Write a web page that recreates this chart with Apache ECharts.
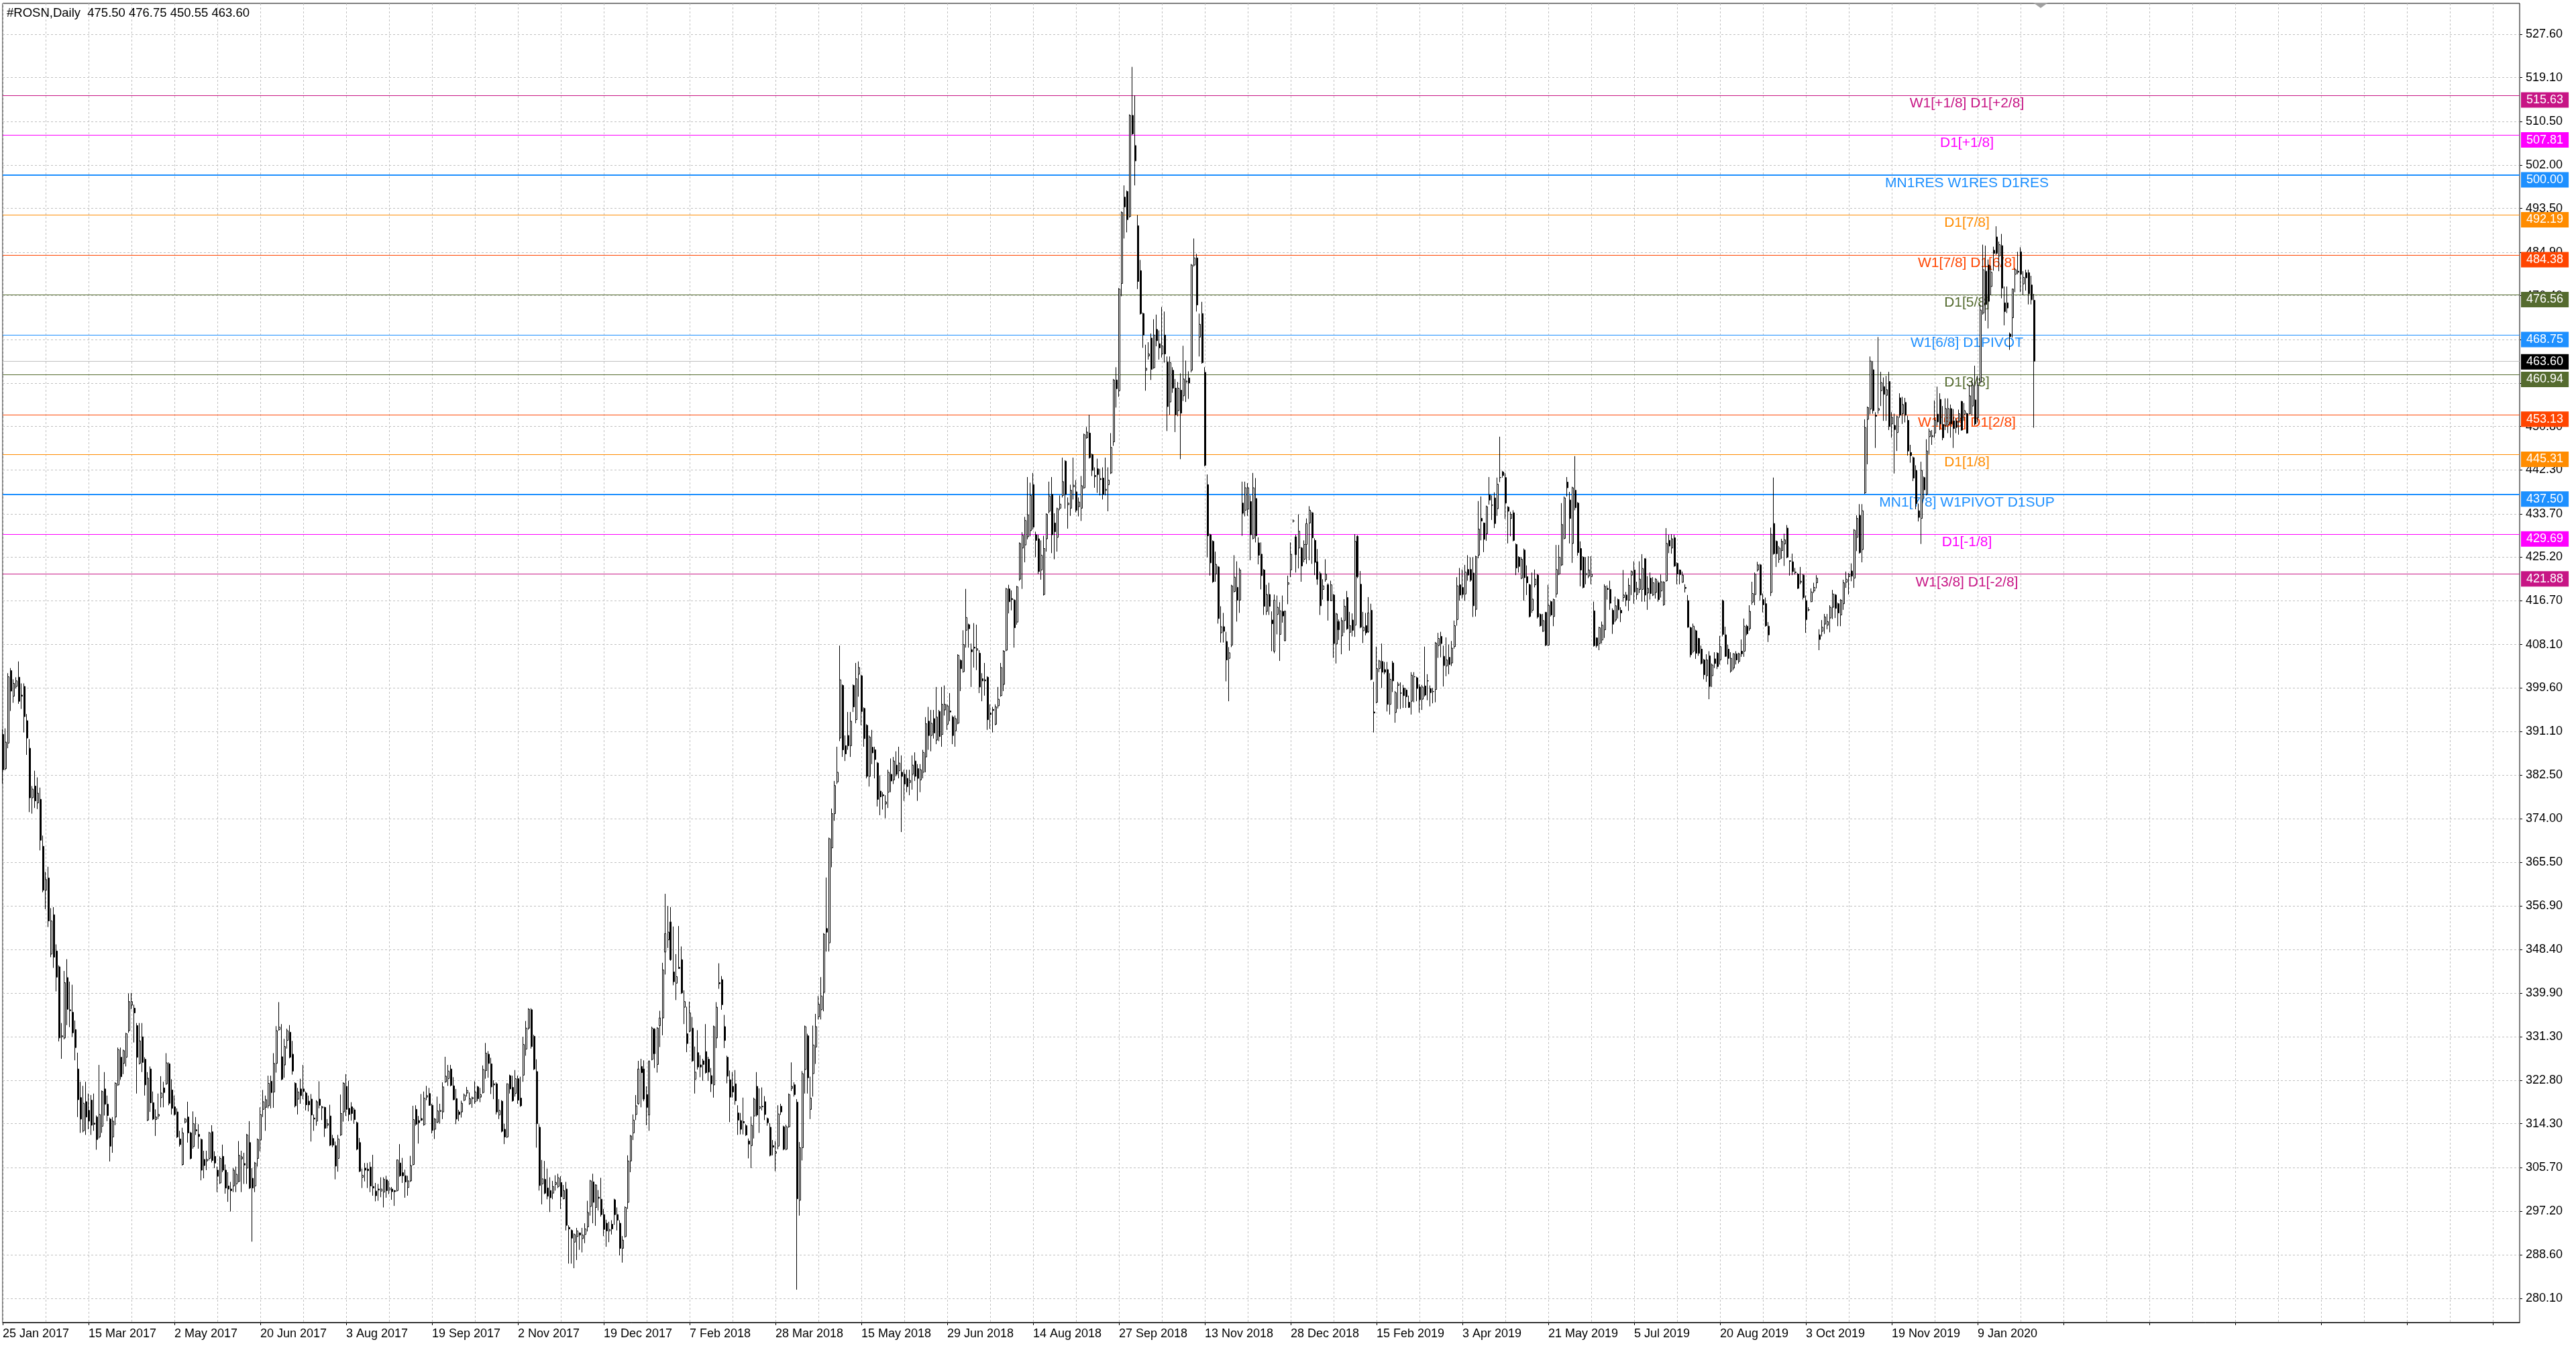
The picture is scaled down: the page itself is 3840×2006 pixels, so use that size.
<!DOCTYPE html>
<html><head><meta charset="utf-8">
<script src="https://cdn.jsdelivr.net/npm/echarts/dist/echarts.min.js"></script>
<style>html,body{margin:0;padding:0;background:#fff}#c{width:3840px;height:2006px}</style>
</head><body><div id="c"></div>
<script>
const symbolTitle = "#ROSN,Daily  475.50 476.75 450.55 463.60";
const dateLabels = ["25 Jan 2017","15 Mar 2017","2 May 2017","20 Jun 2017","3 Aug 2017","19 Sep 2017","2 Nov 2017","19 Dec 2017","7 Feb 2018","28 Mar 2018","15 May 2018","29 Jun 2018","14 Aug 2018","27 Sep 2018","13 Nov 2018","28 Dec 2018","15 Feb 2019","3 Apr 2019","21 May 2019","5 Jul 2019","20 Aug 2019","3 Oct 2019","19 Nov 2019","9 Jan 2020"];
const priceTicks = [280.10,288.60,297.20,305.70,314.30,322.80,331.30,339.90,348.40,356.90,365.50,374.00,382.50,391.10,399.60,408.10,416.70,425.20,433.70,442.30,450.80,459.30,467.80,476.40,484.90,493.50,502.00,510.50,519.10,527.60];
const levelValues = [515.63,507.81,500.00,492.19,484.38,476.56,468.75,460.94,453.13,445.31,437.50,429.69,421.88];
const levelNames = ["W1[+1/8] D1[+2/8]","D1[+1/8]","MN1RES W1RES D1RES","D1[7/8]","W1[7/8] D1[6/8]","D1[5/8]","W1[6/8] D1PIVOT","D1[3/8]","W1[5/8] D1[2/8]","D1[1/8]","MN1[7/8] W1PIVOT D1SUP","D1[-1/8]","W1[3/8] D1[-2/8]"];

const opens = [
390.5,383.8,388.8,403.0,398.0,399.9,401.7,398.2,399.9,393.2,
387.8,378.1,380.4,377.1,377.8,368.6,360.0,362.4,347.5,355.2,
348.1,345.0,331.3,331.1,342.9,336.4,336.1,332.7,325.0,319.4,
312.9,318.6,316.9,318.9,314.4,315.6,311.7,313.8,321.1,318.1,
315.2,311.7,315.6,321.9,327.3,326.1,327.3,332.5,337.5,336.9,
333.5,326.1,331.3,326.9,315.0,325.0,318.4,315.1,315.8,319.4,
321.3,322.1,326.0,320.9,317.6,316.6,311.3,306.3,314.6,315.6,
312.5,309.8,313.1,312.2,311.2,307.3,307.0,307.5,312.7,307.9,
305.2,302.7,307.9,305.2,302.1,301.5,302.1,302.5,303.0,307.4,
306.5,305.6,310.6,303.6,302.1,307.5,311.1,317.1,317.5,317.8,
322.6,320.5,326.1,332.7,327.4,325.8,330.6,332.2,327.9,322.2,
319.1,321.1,321.1,320.3,318.7,319.1,315.4,314.8,319.1,317.4,
317.5,314.0,315.8,311.4,310.0,307.5,312.1,316.6,321.6,317.3,
317.6,317.0,314.5,310.6,303.8,305.6,305.4,305.8,302.0,301.1,
301.5,301.1,300.9,303.3,301.3,301.5,301.2,301.2,306.6,304.7,
304.1,301.8,303.1,306.3,317.1,314.9,315.3,314.1,319.5,320.2,
317.9,313.2,314.6,316.7,316.6,322.5,323.1,325.0,321.7,319.2,
316.6,316.6,318.9,320.3,318.2,319.2,318.6,321.5,319.5,320.4,
324.7,327.9,326.0,322.1,322.1,316.0,318.7,313.2,311.7,323.7,
321.4,320.2,323.1,319.3,323.8,328.9,333.0,336.6,331.4,324.5,
313.6,302.5,303.4,301.7,301.2,300.7,302.4,302.0,302.8,299.6,
301.5,294.0,293.4,291.1,292.2,292.9,291.8,292.6,294.1,298.1,
302.9,297.9,299.9,299.5,296.5,294.8,293.3,294.6,299.4,296.5,
294.8,289.9,292.2,298.9,307.0,312.5,316.1,318.2,325.5,325.0,
320.0,316.0,326.9,332.8,325.9,333.5,335.0,347.9,350.3,353.8,
344.0,341.8,344.9,346.4,337.1,331.9,332.4,333.0,323.0,328.2,
325.8,326.6,328.4,326.9,323.7,321.9,331.1,341.9,342.5,333.3,
327.3,322.9,321.6,322.1,316.4,314.9,314.7,313.9,310.9,310.0,
315.8,321.6,317.3,317.7,318.6,315.3,313.6,310.0,308.5,309.9,
317.7,313.7,309.3,313.7,321.2,321.9,318.5,299.3,309.6,324.9,
331.5,317.1,324.1,329.3,335.2,336.6,340.0,352.5,349.7,368.3,
375.0,381.2,389.8,400.1,388.3,390.3,388.3,400.1,393.4,402.3,
402.0,395.6,392.3,382.3,388.0,387.5,384.9,379.4,378.7,376.9,
379.2,382.7,381.6,384.5,383.4,383.1,382.7,381.9,381.1,382.7,
385.3,383.8,381.6,383.1,386.1,393.1,390.3,393.6,389.4,395.0,
390.5,395.3,392.5,395.1,393.9,391.2,392.7,405.0,402.8,410.9,
412.0,407.1,407.6,407.0,406.4,401.4,401.2,401.7,394.7,395.4,
392.5,396.1,398.1,400.3,407.0,419.0,417.1,416.8,412.5,420.9,
427.0,427.6,429.2,430.4,439.4,429.6,428.8,422.7,417.9,428.8,
434.2,437.5,431.9,429.1,434.8,437.3,444.0,435.5,434.8,439.0,
438.0,435.1,434.8,438.8,448.6,449.5,445.3,441.2,442.5,440.6,
440.7,438.3,439.4,441.7,447.8,459.9,457.8,478.8,495.7,496.8,
491.9,511.7,505.8,490.1,481.3,472.9,461.8,464.6,468.1,462.3,
469.8,467.0,465.0,468.7,463.4,455.6,461.8,458.3,453.9,457.9,
456.8,459.5,460.3,461.8,482.4,483.8,468.3,472.9,461.4,439.4,
429.6,428.3,421.9,423.3,410.4,411.6,408.7,405.4,408.0,418.5,
419.3,416.8,435.8,434.4,434.6,436.1,428.9,436.7,428.0,425.8,
422.7,414.6,417.9,412.9,406.8,414.0,410.1,414.6,408.9,419.9,
422.7,432.3,429.2,427.0,427.0,424.8,427.7,431.9,433.9,428.5,
424.3,422.0,418.9,420.8,419.8,416.7,417.8,408.2,412.6,409.8,
412.8,417.3,410.5,412.9,411.9,429.3,419.9,410.8,411.8,410.6,
414.8,394.9,396.8,403.4,404.8,403.2,403.2,396.4,404.5,394.8,
400.1,398.6,399.6,399.2,396.8,397.0,401.8,401.6,399.8,397.4,
400.0,401.0,399.5,398.9,399.3,407.9,409.7,405.8,403.9,405.6,
404.5,407.7,413.0,419.8,419.3,418.0,422.8,422.8,422.1,415.0,
425.6,432.8,431.9,429.8,437.4,435.4,436.8,434.7,440.8,441.9,
440.8,435.0,432.8,433.9,427.7,425.2,421.1,426.6,421.4,419.8,
414.8,419.8,421.7,414.0,410.7,414.4,408.0,416.5,413.6,418.0,
421.9,423.7,428.9,439.9,436.4,427.9,438.3,435.8,426.9,425.2,
421.8,421.5,421.4,414.7,409.4,408.3,409.0,411.0,419.1,418.9,
414.8,412.9,416.9,414.8,417.3,417.8,416.8,421.7,422.7,417.9,
418.9,418.9,424.9,418.2,421.1,417.8,418.3,420.2,418.6,415.9,
420.6,428.5,427.0,429.0,424.0,422.7,420.3,419.3,416.7,411.4,
406.8,410.8,409.3,407.2,405.1,402.0,405.9,402.0,405.3,406.4,
405.1,416.7,410.0,407.2,402.9,403.5,406.3,404.8,406.8,406.8,
411.7,411.2,416.4,417.9,422.7,423.7,416.9,416.1,411.7,418.3,
431.8,428.3,424.8,426.5,427.8,430.9,424.5,424.3,422.3,421.9,
420.3,421.7,416.7,414.9,416.5,418.6,420.2,410.0,410.7,412.1,
411.9,413.3,415.4,417.8,416.1,413.9,416.1,420.3,421.4,422.5,
421.1,429.1,433.4,426.7,437.8,452.2,454.2,461.9,453.0,454.0,
457.8,458.6,456.9,459.6,451.3,451.0,449.6,456.4,453.3,455.5,
452.0,445.7,444.7,442.2,434.3,432.8,440.8,437.5,448.8,448.8,
449.5,453.2,456.1,451.2,451.0,451.2,454.3,451.9,451.9,451.9,
455.7,453.2,453.3,453.3,454.8,456.0,452.5,459.5,473.0,481.2,
482.4,478.2,485.3,487.9,484.2,486.2,475.0,475.0,468.9,472.1,
480.6,481.2,485.0,478.7,480.9,480.9,478.5,475.5];

const highs = [
391.5,391.7,402.5,403.5,401.3,401.7,404.8,400.5,400.5,394.5,
389.6,380.4,383.4,382.1,380.1,370.7,363.6,364.6,356.5,356.7,
349.4,345.3,334.0,344.2,346.5,342.1,341.5,334.5,328.2,322.5,
321.7,322.5,320.2,319.9,320.2,315.9,325.8,320.8,324.4,319.8,
315.5,315.6,322.4,329.2,329.2,328.8,332.1,339.8,339.9,337.6,
334.0,334.0,334.0,327.3,324.4,325.5,320.6,317.1,320.2,323.6,
322.5,328.1,326.3,323.0,319.8,317.3,312.9,313.5,315.4,318.6,
312.7,316.7,315.6,314.2,311.4,309.0,309.0,312.7,314.0,308.9,
305.9,307.9,310.2,306.3,304.8,302.9,305.6,305.9,310.9,309.0,
308.6,312.3,314.8,305.6,306.8,311.4,317.5,320.9,319.8,323.7,
323.7,328.1,333.4,338.1,333.8,330.9,332.9,333.6,330.5,322.4,
321.3,323.1,325.8,320.6,319.8,320.1,316.1,318.9,322.6,317.8,
317.6,315.2,318.0,312.1,310.8,312.1,320.0,322.4,324.0,322.7,
318.5,317.4,314.7,311.5,305.5,306.6,306.6,306.8,308.2,302.7,
302.5,303.8,303.8,304.1,303.1,301.9,301.3,307.3,310.3,307.6,
305.3,304.1,308.0,317.8,317.9,315.8,320.1,320.6,321.7,321.3,
318.2,315.4,319.6,318.2,322.4,327.4,325.8,325.8,323.4,321.1,
317.0,318.8,320.2,321.5,320.4,319.6,322.6,321.7,321.3,325.7,
330.1,328.5,327.2,322.8,322.4,319.1,318.9,314.3,322.2,323.9,
323.7,324.8,323.7,323.5,331.3,334.4,336.9,336.9,331.7,326.9,
314.2,307.2,307.0,305.5,303.8,303.1,304.2,304.5,304.0,302.3,
302.9,294.4,293.6,292.8,293.9,293.0,293.9,294.8,299.2,303.3,
304.5,302.4,301.3,303.7,297.6,295.5,295.1,295.4,299.6,297.9,
295.4,292.3,298.1,308.1,312.1,316.1,319.9,326.6,327.0,326.7,
321.6,326.7,333.3,333.0,333.2,336.4,345.8,359.3,356.9,356.7,
352.9,347.5,353.0,349.0,340.4,337.2,338.2,335.2,329.4,332.6,
327.7,327.0,333.8,327.4,325.2,333.5,338.1,345.7,343.2,335.6,
327.6,324.7,324.4,324.8,317.9,316.4,319.4,314.2,311.4,315.7,
319.4,324.4,321.2,321.4,319.7,315.5,314.4,311.1,310.9,317.9,
318.2,313.9,314.1,320.2,326.3,322.4,319.1,310.7,324.6,333.5,
331.9,323.5,333.5,335.8,339.3,343.0,351.6,362.5,370.3,376.0,
381.4,388.1,407.9,400.3,390.3,394.9,394.9,400.3,404.5,404.8,
402.2,395.8,392.5,390.3,391.4,388.1,385.1,382.5,379.2,378.6,
383.6,385.8,386.1,387.2,388.1,386.4,383.6,383.6,383.6,386.4,
387.0,384.7,384.7,387.5,393.9,395.9,395.3,395.3,399.8,395.3,
399.8,400.1,396.4,398.6,394.2,394.2,406.2,405.2,410.9,419.0,
412.2,408.3,412.3,412.0,407.0,402.5,404.5,401.9,396.4,395.9,
396.4,399.8,404.5,407.0,419.2,419.8,418.7,417.0,419.6,428.1,
430.1,433.1,440.9,439.8,441.7,430.2,429.6,428.5,429.4,433.8,
440.0,440.9,433.8,434.9,437.3,444.7,444.2,436.9,439.4,444.7,
440.3,436.9,441.1,449.4,450.7,453.1,445.5,442.8,444.5,442.5,
442.8,444.7,442.8,449.5,460.1,462.4,477.9,492.9,498.0,497.0,
511.9,521.2,515.6,492.2,483.4,473.1,466.8,467.3,469.0,471.8,
472.7,469.6,474.2,473.3,464.5,464.5,462.4,460.1,459.5,461.2,
466.6,463.7,461.6,482.6,487.6,484.6,472.9,475.2,462.4,441.4,
429.8,428.5,426.3,423.5,415.6,414.3,410.6,407.6,419.8,425.6,
424.4,423.1,440.0,440.0,439.7,437.3,441.7,440.7,429.1,428.1,
422.9,419.8,420.2,414.6,417.9,417.7,416.4,417.7,414.8,421.6,
428.1,432.6,429.6,433.6,427.2,428.5,432.8,435.2,434.1,428.9,
426.8,422.4,420.9,424.8,420.1,420.6,418.0,414.3,413.0,413.4,
417.0,418.6,414.5,414.2,429.7,429.5,422.5,414.5,414.3,417.4,
416.1,400.8,407.7,405.1,408.3,404.7,404.7,402.5,404.9,399.0,
400.8,400.7,400.2,399.6,398.1,402.7,402.7,401.8,400.3,400.2,
407.7,402.3,400.1,399.6,408.6,410.4,410.6,407.9,409.5,408.1,
408.8,412.8,421.3,423.1,422.8,423.7,425.6,425.2,425.2,425.5,
436.2,437.1,432.0,435.3,440.9,437.3,437.9,440.8,448.8,442.1,
441.7,435.2,434.1,434.4,427.9,425.4,425.2,426.9,423.6,420.0,
422.2,422.8,421.9,414.2,414.1,414.5,419.8,416.7,417.1,427.6,
427.6,435.8,437.1,440.9,438.0,439.0,445.0,436.0,428.3,425.4,
425.2,425.4,425.4,416.5,409.5,411.6,412.6,419.9,419.7,420.6,
415.2,417.5,417.1,415.4,422.7,418.4,421.1,422.6,424.4,420.4,
424.4,425.8,425.0,421.5,422.2,421.3,421.1,420.6,421.8,420.5,
430.9,429.6,429.7,429.6,424.2,422.8,422.4,419.9,417.8,411.6,
412.2,411.0,409.4,407.9,405.3,406.2,406.8,404.4,406.6,406.6,
409.8,416.9,411.6,408.1,406.6,406.4,406.8,406.5,409.1,413.2,
412.0,415.8,420.4,422.2,424.3,423.9,418.1,417.3,412.5,431.0,
440.8,428.5,427.4,428.8,429.8,431.5,424.6,425.9,423.1,422.1,
423.3,421.9,417.7,415.4,419.1,420.2,421.7,411.1,412.9,414.1,
414.1,415.8,418.8,418.0,416.3,417.0,420.8,422.4,422.1,424.0,
430.7,433.4,435.6,435.6,452.2,454.7,464.5,463.6,453.6,468.3,
461.5,460.4,460.7,461.5,453.6,453.3,452.9,457.3,456.6,456.4,
452.9,447.2,444.9,443.2,435.7,443.9,441.0,448.3,450.4,450.1,
455.9,458.6,457.3,454.8,456.3,456.3,455.1,454.2,452.5,454.1,
455.8,455.4,453.5,458.9,459.8,462.7,460.7,474.7,486.4,486.2,
483.5,482.3,486.0,490.0,487.0,488.5,478.2,478.2,469.2,477.8,
481.8,485.0,485.9,481.2,481.5,481.5,480.3,476.75];

const lows = [
380.9,383.5,387.8,395.1,396.7,399.5,396.5,395.5,390.9,386.5,
375.3,375.0,376.1,375.9,367.8,359.6,356.3,352.8,346.9,344.8,
340.2,330.4,327.0,330.8,333.6,333.2,331.3,326.7,315.6,312.5,
312.6,312.1,313.2,312.1,312.9,309.2,311.4,312.5,315.9,314.8,
306.9,308.6,314.0,321.7,322.9,324.0,325.5,332.1,336.7,330.2,
320.2,325.9,324.4,319.8,314.8,316.6,315.0,311.9,315.2,317.5,
317.5,321.9,317.9,316.1,315.9,311.5,309.8,306.1,314.4,310.6,
307.3,309.4,312.1,309.4,303.2,303.6,305.2,307.1,306.7,305.6,
300.9,302.5,304.8,300.6,299.0,297.1,300.9,300.9,302.8,300.9,
302.5,302.5,301.5,291.2,300.9,305.9,308.9,315.6,312.9,317.3,
317.3,317.4,324.3,332.5,322.8,323.3,329.0,327.1,323.9,317.5,
316.1,318.2,319.1,316.9,316.7,310.8,312.9,313.9,317.3,315.0,
311.7,313.4,309.9,309.7,303.4,304.9,311.9,314.7,315.8,314.8,
314.9,314.3,309.1,304.8,301.7,303.0,301.7,300.9,300.2,299.1,
299.2,299.9,297.9,299.8,300.5,299.4,298.2,301.0,303.9,302.7,
299.8,300.2,302.9,306.1,313.9,310.4,314.8,313.9,318.9,317.8,
312.4,311.3,314.4,314.3,315.2,322.3,321.7,321.6,318.9,314.2,
314.8,315.5,318.7,319.6,318.0,317.4,318.2,318.7,318.5,320.2,
323.1,323.3,320.1,319.1,316.1,315.2,312.6,310.3,311.5,320.2,
318.6,319.6,318.2,317.6,322.5,327.6,332.7,329.0,324.8,309.6,
301.2,298.5,300.5,299.5,297.0,299.5,301.2,301.7,297.6,299.5,
293.4,286.9,286.9,286.0,287.6,289.6,289.1,290.9,293.2,296.3,
294.8,294.3,297.3,296.1,292.3,290.2,291.1,292.6,294.5,293.4,
288.5,287.1,292.0,297.6,304.8,311.1,315.0,318.0,317.5,318.7,
314.0,312.9,326.7,325.2,324.3,329.3,331.6,343.5,348.7,346.2,
341.4,338.5,344.6,339.7,333.8,328.3,332.2,326.4,320.2,324.9,
323.4,322.7,324.1,322.7,320.5,319.4,329.1,340.7,336.6,329.1,
322.2,314.6,319.4,318.0,312.1,312.2,312.2,311.9,307.5,305.6,
311.4,315.7,312.5,316.9,315.0,313.9,307.9,308.1,305.0,309.3,
316.0,309.1,309.1,313.5,320.7,319.6,281.8,296.3,307.1,320.2,
320.2,315.2,319.6,326.0,334.7,334.7,336.3,348.0,348.0,364.5,
373.6,380.8,389.2,386.1,385.3,387.5,386.1,394.9,392.7,397.9,
392.3,388.1,381.9,380.3,384.7,381.9,376.4,374.7,375.8,374.1,
376.1,379.2,380.8,382.3,381.9,371.4,377.5,379.2,378.6,379.7,
381.4,377.5,379.2,381.9,383.1,387.5,387.2,389.7,388.6,389.2,
388.1,394.2,391.4,393.1,388.6,388.1,392.5,399.0,402.6,407.5,
407.5,399.8,403.6,403.1,398.6,397.0,398.1,391.4,391.6,390.9,
392.3,395.6,397.9,399.0,406.8,414.2,414.8,407.5,412.0,420.6,
419.0,424.2,428.7,429.3,430.6,425.2,421.9,420.8,417.7,426.3,
433.8,426.0,424.8,426.3,434.4,436.9,434.7,430.8,433.3,436.5,
434.0,433.2,432.3,438.6,448.4,444.5,441.1,438.8,437.8,437.3,
436.5,437.3,434.2,441.5,447.0,454.5,456.6,476.3,487.6,488.8,
491.7,507.9,498.0,477.7,472.7,466.2,457.8,463.9,459.9,462.1,
466.5,463.9,464.3,463.3,449.9,453.1,457.4,449.7,452.8,444.4,
455.8,455.6,456.2,461.4,482.1,473.3,464.5,463.1,443.0,425.2,
421.6,420.2,420.4,412.2,408.5,408.5,400.9,397.0,407.6,418.3,
412.6,414.3,429.4,433.2,433.3,424.6,428.7,428.1,423.8,418.9,
413.9,413.9,413.9,406.8,406.4,410.1,404.9,412.4,408.7,416.0,
421.3,432.0,422.2,423.0,420.4,424.2,423.9,424.6,423.9,421.7,
419.8,413.9,416.9,420.4,412.8,416.6,405.5,404.4,409.0,406.2,
410.4,411.0,406.9,409.7,409.6,421.1,411.3,408.4,409.9,410.4,
401.1,390.9,396.6,402.7,399.6,402.3,395.0,394.4,398.8,392.8,
395.5,395.5,395.7,395.7,395.7,394.4,396.8,397.0,394.8,395.3,
397.9,397.2,396.0,396.6,396.8,405.5,405.6,399.9,401.9,402.3,
403.9,407.3,411.8,416.7,417.1,416.7,420.6,420.4,413.5,413.6,
425.0,428.5,426.2,428.4,435.5,432.5,430.9,433.3,439.9,440.8,
432.7,427.9,429.3,428.3,421.7,422.2,420.9,416.7,417.8,413.4,
414.3,419.3,413.2,411.6,410.6,407.8,407.8,413.6,411.7,417.3,
421.7,423.5,428.7,437.1,427.9,424.1,434.4,425.5,419.5,419.1,
419.9,421.1,419.9,407.7,407.5,407.0,408.3,409.4,416.9,414.9,
410.2,412.5,413.2,412.5,416.5,415.6,414.7,417.8,416.1,416.9,
418.2,416.5,416.5,414.9,416.9,417.6,417.1,416.5,417.3,415.7,
420.4,426.0,425.9,423.3,419.9,419.9,420.2,418.3,411.4,405.6,
406.4,405.3,405.9,404.2,401.3,400.8,397.4,399.8,403.5,403.3,
404.2,409.7,405.7,404.2,402.6,403.1,404.2,404.4,405.7,405.7,
409.9,410.8,415.9,415.8,422.4,416.7,414.4,411.6,408.6,417.6,
425.7,423.3,424.1,424.9,423.5,425.0,421.6,421.7,421.8,419.0,
419.9,416.9,410.4,414.6,416.4,418.2,419.1,407.0,409.7,410.2,
411.1,410.5,413.1,413.3,411.7,411.7,414.9,419.2,417.9,420.5,
419.2,426.4,425.9,424.2,437.6,443.4,453.2,453.3,446.6,453.3,
454.8,451.9,451.9,450.1,448.6,441.6,446.0,452.5,451.3,451.6,
445.1,443.7,440.1,434.6,432.2,427.8,436.6,437.3,445.4,447.2,
448.6,451.0,450.1,448.1,450.1,449.5,448.6,446.6,449.5,449.2,
450.0,451.9,449.4,453.2,452.9,451.0,451.6,459.2,472.7,471.5,
470.0,476.5,481.3,484.4,481.2,475.9,470.6,473.0,465.8,468.2,
477.1,480.6,477.1,476.5,477.4,474.7,474.7,450.55];

const closes = [
383.6,389.0,401.8,399.0,400.5,401.0,397.0,398.0,394.0,389.8,
378.1,379.8,377.5,379.0,369.8,360.0,362.1,354.0,354.0,346.9,
343.0,331.1,331.5,341.9,336.7,336.6,332.1,329.2,319.0,315.2,
318.3,315.6,314.8,314.0,314.2,311.2,316.1,320.6,318.1,315.9,
309.9,314.8,322.2,328.8,323.5,328.6,331.9,338.2,338.2,336.0,
327.3,330.5,326.3,321.9,323.2,318.4,315.2,315.6,316.1,320.3,
320.4,326.2,318.3,317.3,316.1,311.7,310.2,312.5,315.2,312.5,
307.5,314.3,312.9,311.8,305.2,306.1,307.3,312.5,307.1,306.6,
304.0,307.5,305.2,301.7,301.5,301.2,305.2,304.4,308.1,307.8,
306.2,312.1,301.7,301.7,306.6,311.2,316.1,318.6,319.0,322.2,
320.4,326.1,332.5,333.2,323.0,329.4,332.5,327.3,324.6,317.8,
320.5,319.8,320.6,318.0,318.0,316.0,315.2,318.6,317.9,317.6,
313.4,314.3,310.1,310.1,306.0,311.3,316.3,322.2,317.1,316.1,
316.3,315.1,309.3,305.0,304.2,305.2,305.1,302.1,301.7,300.2,
301.3,301.5,303.4,301.2,301.7,301.0,301.0,307.2,304.1,304.1,
302.9,303.1,306.1,315.1,314.2,314.5,315.0,319.3,319.8,317.9,
313.0,315.2,316.8,316.9,321.5,323.6,324.6,321.8,319.0,315.2,
316.1,318.3,319.9,320.8,319.2,319.4,320.5,319.2,320.0,324.9,
328.1,326.1,321.5,321.9,316.6,316.9,312.8,311.7,322.1,321.1,
318.8,323.1,318.9,317.8,329.8,333.0,336.7,329.4,325.0,314.3,
302.2,303.5,300.7,300.1,299.8,302.0,302.8,303.7,300.0,301.2,
294.4,293.7,291.9,292.6,293.3,292.5,292.5,293.7,296.9,303.1,
298.9,302.3,299.7,296.5,293.6,293.3,293.6,293.7,296.5,295.4,
289.9,291.5,297.9,307.0,311.9,315.0,317.8,325.0,324.3,319.1,
317.5,326.5,333.0,328.0,333.0,335.0,344.4,351.5,351.8,346.4,
342.1,343.1,344.7,339.9,338.2,330.0,336.0,326.6,324.4,325.4,
325.4,325.9,324.3,324.4,322.1,333.3,337.1,341.7,337.6,330.6,
323.6,319.5,320.5,318.8,315.0,313.2,314.5,312.1,310.3,314.0,
319.1,316.0,317.6,317.6,316.1,314.5,308.1,309.7,308.8,316.2,
316.6,309.3,313.7,320.0,321.6,320.0,299.6,309.6,324.1,333.3,
323.3,319.3,329.7,333.3,337.7,339.3,351.4,351.8,370.1,375.0,
380.5,383.1,401.2,387.5,386.7,388.3,393.1,395.9,401.4,403.6,
395.0,389.7,382.3,390.0,386.9,385.6,377.8,378.3,378.5,377.3,
383.1,381.4,385.3,382.7,384.9,382.3,380.8,380.3,381.5,384.5,
382.3,381.9,383.6,387.0,392.6,390.3,392.7,390.8,393.9,390.1,
396.4,396.4,396.1,394.9,390.3,393.6,406.0,403.4,408.1,413.4,
411.2,406.7,407.4,407.3,399.8,401.0,401.0,393.4,394.4,395.2,
395.9,397.4,403.6,406.8,419.0,416.5,416.9,411.4,419.4,427.9,
429.5,432.4,433.5,437.3,431.1,428.5,422.4,425.6,426.9,433.6,
437.2,429.6,430.2,434.7,435.6,440.0,437.5,435.8,438.3,439.3,
434.4,436.0,439.2,449.2,449.7,444.7,442.2,441.0,441.4,440.4,
437.5,438.5,440.3,446.7,459.9,458.2,477.7,492.7,493.8,491.3,
511.7,508.1,502.8,479.2,472.9,468.7,462.2,465.0,462.0,468.7,
467.6,466.2,466.6,465.0,454.7,463.3,458.3,453.1,458.3,453.4,
460.1,459.7,459.3,482.4,483.8,474.6,470.8,463.3,443.2,429.4,
424.1,420.4,423.8,413.2,411.6,410.7,405.1,406.5,419.6,421.3,
416.8,422.7,433.8,438.8,438.8,429.6,438.8,429.4,425.6,421.6,
415.6,417.9,415.6,412.2,416.8,415.4,414.7,413.7,414.6,420.2,
425.8,432.3,425.7,430.3,423.5,427.7,431.8,434.4,429.0,424.2,
420.9,415.7,419.6,421.9,416.7,419.8,408.3,414.1,411.0,412.8,
415.6,411.2,411.8,410.9,428.3,421.4,411.5,411.5,410.4,414.3,
401.3,394.7,403.4,404.9,402.7,402.7,396.4,401.3,401.0,398.7,
400.4,398.6,398.1,397.9,395.8,402.1,401.8,399.5,397.3,399.8,
398.2,401.0,398.7,398.9,408.4,409.3,408.3,404.0,405.1,404.2,
407.4,411.8,419.6,417.8,417.9,422.3,421.7,420.7,415.7,425.3,
430.7,432.3,428.7,435.1,436.4,435.4,431.8,439.5,440.8,441.2,
435.8,434.2,433.6,428.5,423.1,423.4,424.8,421.2,420.2,413.6,
417.0,420.9,413.5,411.8,412.8,408.0,415.8,413.9,416.9,422.8,
425.2,431.6,436.8,438.8,432.8,438.8,434.9,426.1,422.7,419.3,
422.0,422.7,421.9,407.9,407.9,411.4,411.9,419.5,418.9,416.2,
412.1,415.7,414.9,414.3,417.8,416.8,419.7,422.4,418.4,419.1,
420.9,423.0,417.8,419.1,418.1,420.2,420.9,416.9,420.4,420.3,
427.9,427.4,428.8,423.5,421.9,421.8,421.7,419.1,411.5,406.1,
411.7,406.4,406.4,404.4,402.2,405.1,399.9,404.1,404.4,403.8,
407.7,410.1,405.8,405.4,405.4,406.3,405.1,406.3,406.3,411.7,
410.2,414.6,418.1,421.9,423.7,417.8,415.9,411.8,410.0,429.7,
425.9,425.9,427.0,428.3,428.6,425.2,424.4,422.4,422.2,419.1,
420.5,417.3,413.0,414.9,418.4,419.3,421.1,409.1,411.5,413.5,
412.6,415.4,418.0,415.2,414.3,416.8,420.2,420.9,421.9,421.5,
430.5,432.8,426.1,434.3,450.6,454.5,463.6,453.9,452.8,454.3,
459.4,457.1,458.0,450.8,452.6,450.2,452.7,453.0,455.1,453.0,
446.0,445.1,440.7,435.7,433.0,442.2,438.4,446.0,449.9,449.0,
452.0,451.7,451.3,448.6,454.3,454.3,451.3,450.4,450.6,453.3,
450.1,453.9,449.5,456.8,458.9,451.3,458.9,473.6,481.5,474.7,
475.3,481.0,484.7,484.7,486.4,477.9,473.3,474.0,468.4,477.7,
481.5,481.0,480.6,480.0,479.9,476.8,475.6,463.6];

/* ---------- layout / style (not data) ---------- */
const FONT = '"Liberation Sans", Arial, sans-serif';
const slotCount = 939;           // bars + right-side shift space
const labelEvery = 32, gridEvery = 16;
const levelLabelSlot = 732;
const yMin = 275.37, yMax = 533.64;
const levelColors = ['#C71585','#FF00FF','#1E90FF','#FF8C00','#FF4500','#556B2F','#1E90FF','#556B2F','#FF4500','#FF8C00','#1E90FF','#FF00FF','#C71585'];
const levelWidths = [1,1,2,1,1,1,1,1,1,1,2,1,1];

const categories = Array.from({length: slotCount}, (_, i) => String(i));
const candles = opens.map((o, i) => [o, closes[i], lows[i], highs[i]]);
const lastPrice = closes[closes.length - 1];

const tagLabel = (bg, dy) => ({
  show: true, position: 'end', distance: 2, color: '#fff', backgroundColor: bg,
  padding: [3, 8, 2, 8], fontSize: 18, fontFamily: FONT, offset: [0, dy]
});

const lineMarks = levelValues.map((v, i) => ({
  yAxis: v,
  lineStyle: {color: levelColors[i], width: levelWidths[i], type: 'solid'},
  label: Object.assign(tagLabel(levelColors[i], 7), {formatter: v.toFixed(2)})
}));
lineMarks.push({
  yAxis: lastPrice,
  lineStyle: {color: '#C0C0C0', width: 1, type: 'solid'},
  label: Object.assign(tagLabel('#000', 1), {formatter: lastPrice.toFixed(2)})
});

const pointMarks = levelValues.map((v, i) => ({
  coord: [levelLabelSlot, v],
  label: {show: true, position: 'bottom', distance: 1, formatter: levelNames[i],
    color: levelColors[i], fontSize: 21, fontFamily: FONT}
}));

const chart = echarts.init(document.getElementById('c'), null, {renderer: 'canvas', width: 3840, height: 2006});
chart.setOption({
  animation: false,
  backgroundColor: '#fff',
  textStyle: {fontFamily: FONT},
  title: {text: symbolTitle, left: 10, top: 10, padding: 0,
    textStyle: {fontSize: 18.5, fontWeight: 'normal', color: '#000', fontFamily: FONT}},
  grid: {left: 4, right: 84, top: 5, bottom: 35, show: true, borderColor: '#000', borderWidth: 1,
    containLabel: false, outerBoundsMode: 'none'},
  xAxis: {
    type: 'category', data: categories, boundaryGap: false,
    axisLine: {show: true, lineStyle: {color: '#000', width: 1}},
    axisTick: {show: true, length: 4, interval: (i) => i % labelEvery === 0, lineStyle: {color: '#000'}},
    axisLabel: {show: true, interval: (i) => i % labelEvery === 0 && (i / labelEvery) < dateLabels.length,
      formatter: (v, i) => dateLabels[i / labelEvery] || '',
      align: 'left', margin: 8, fontSize: 18, color: '#000', fontFamily: FONT},
    splitLine: {show: true, interval: (i) => i % gridEvery === 0,
      lineStyle: {color: '#C0C0C0', type: [3, 3], width: 1}}
  },
  yAxis: {
    type: 'value', position: 'right', min: yMin, max: yMax, scale: true,
    axisLine: {show: false},
    axisTick: {show: true, length: 4, customValues: priceTicks, lineStyle: {color: '#000'}},
    axisLabel: {show: true, customValues: priceTicks, formatter: (v) => v.toFixed(2),
      margin: 9, fontSize: 18, color: '#000', align: 'left', fontFamily: FONT},
    splitLine: {show: true, lineStyle: {color: '#C0C0C0', type: [3, 3], width: 1}}
  },
  graphic: [{type: 'polygon', z: 100, shape: {points: [[3031, 4], [3053, 4], [3042, 12]]},
    style: {fill: '#A0A0A0'}}],
  series: [
    {
      type: 'line', data: [], z: 1, silent: true,
      markLine: {z: 1, silent: true, symbol: ['none', 'none'], animation: false, data: lineMarks},
      markPoint: {z: 1, silent: true, symbol: 'circle', symbolSize: 1, animation: false,
        itemStyle: {color: 'rgba(0,0,0,0)'}, data: pointMarks}
    },
    {
      type: 'candlestick', data: candles, z: 2, large: false, barWidth: 2.5, progressive: 0,
      itemStyle: {color: '#fff', color0: '#000', borderColor: '#000', borderColor0: '#000',
        borderColorDoji: '#000', borderWidth: 1}
    }
  ]
});
</script></body></html>
